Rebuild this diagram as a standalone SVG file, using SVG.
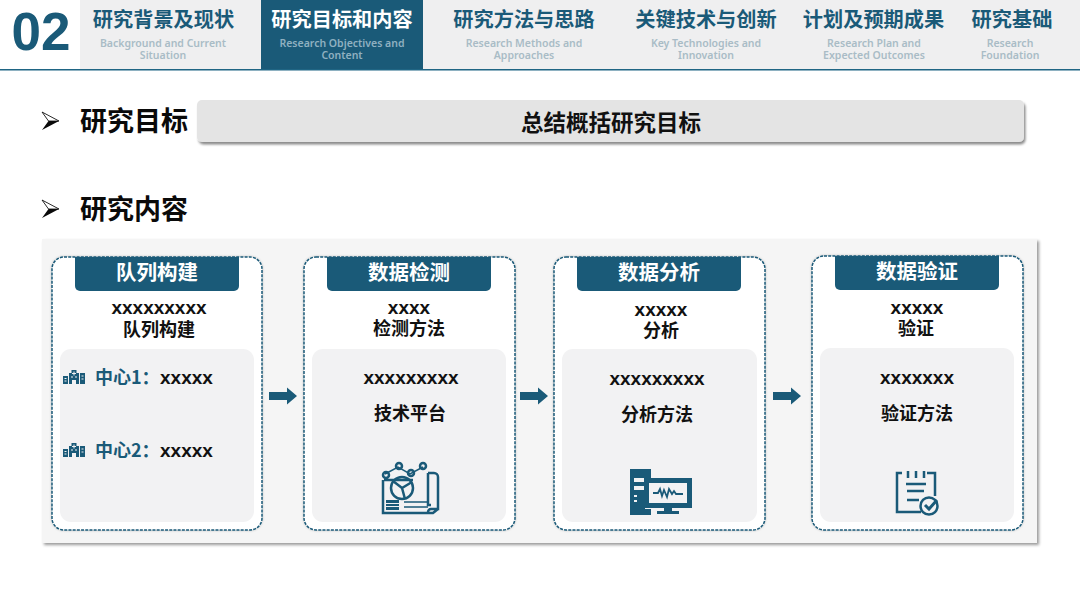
<svg xmlns="http://www.w3.org/2000/svg" width="1080" height="608" viewBox="0 0 1080 608">
<style>
text{font-family:"Noto Sans CJK SC","Noto Sans",sans-serif;text-anchor:middle;font-weight:700}
.tt{font-size:20.2px;fill:#1a5a78}
.ts{font-family:"Noto Sans","Open Sans",sans-serif;font-size:10.5px;font-weight:600;fill:#a9bcc6}
.h{font-size:27px;fill:#0a0a0a;text-anchor:start}
.cap{font-size:20.500px;fill:#fff}
.b{font-family:"Noto Sans CJK SC",sans-serif;font-size:18px;fill:#111}
.x{font-family:"Liberation Sans",sans-serif;font-size:19px;fill:#111}
.card{fill:#fff;stroke:#1a5a78;stroke-width:1.500;stroke-dasharray:3 1.200}
.in{fill:#f2f2f3}
.ic{fill:none;stroke:#1a5a78;stroke-width:2.500}
.f{fill:#1a5a78}
</style>
<defs>
<filter id="sd" x="-5%" y="-20%" width="110%" height="140%"><feDropShadow dx="1.5" dy="2.5" stdDeviation="1.2" flood-color="#000" flood-opacity=".45"/></filter>
<filter id="sd2" x="-5%" y="-5%" width="110%" height="110%"><feDropShadow dx="2" dy="2" stdDeviation="1.5" flood-color="#000" flood-opacity=".4"/></filter>
<filter id="sd3" x="-5%" y="-5%" width="110%" height="110%"><feDropShadow dx="0" dy="0" stdDeviation="1.2" flood-color="#000" flood-opacity=".25"/></filter>
<g id="hosp"><path class="f" d="M0 14V6h5V14zM6 14V3h2.500V0h5V3H16V14H13V10H9v4zM17 14V3h5V14z"/><path d="M11 1.500v4M9 3.500h4M1.500 8.500h2M1.500 11h2M18.500 6h2M18.500 9h2M8 7h2M12 7h2" stroke="#f2f2f3" stroke-width="1" fill="none"/></g>
<g id="bul"><path d="M0 0L17 9L0 18L6.500 9Z" fill="#0a0a0a"/><path d="M0 0L17 9L6.500 9Z" fill="#fff" stroke="#0a0a0a" stroke-width=".8"/></g>
<path id="arr" d="M0 -4H18V-8.500L28 0L18 8.500V4H0Z" fill="#1a5a78"/>
</defs>

<g id="header">
<rect x="80" y="0" width="1000" height="69" fill="#efeff0"/>
<rect x="261" y="0" width="162" height="69" fill="#1a5a78"/>
<rect x="0" y="69" width="1080" height="1.500" fill="#1f6584"/>
<text x="41" y="50" style="font-family:'Liberation Sans',sans-serif;font-size:53px;fill:#1a5a78">02</text>
</g>
<g id="tab1"><text class="tt" x="163.500" y="27">研究背景及现状</text><text class="ts" x="163" y="47">Background and Current</text><text class="ts" x="163" y="59">Situation</text></g>
<g id="tab2"><text class="tt" x="342" y="27" style="fill:#fff">研究目标和内容</text><text class="ts" x="342" y="47" style="fill:#8fb0c0">Research Objectives and</text><text class="ts" x="342" y="59" style="fill:#8fb0c0">Content</text></g>
<g id="tab3"><text class="tt" x="524" y="27">研究方法与思路</text><text class="ts" x="524" y="47">Research Methods and</text><text class="ts" x="524" y="59">Approaches</text></g>
<g id="tab4"><text class="tt" x="706" y="27">关键技术与创新</text><text class="ts" x="706" y="47">Key Technologies and</text><text class="ts" x="706" y="59">Innovation</text></g>
<g id="tab5"><text class="tt" x="873.500" y="27">计划及预期成果</text><text class="ts" x="874" y="47">Research Plan and</text><text class="ts" x="874" y="59">Expected Outcomes</text></g>
<g id="tab6"><text class="tt" x="1012" y="27">研究基础</text><text class="ts" x="1010" y="47">Research</text><text class="ts" x="1010" y="59">Foundation</text></g>

<g id="goal">
<use href="#bul" x="42" y="112"/>
<text class="h" x="80" y="131">研究目标</text>
<rect x="197" y="100" width="827" height="42" rx="5" fill="#e4e4e4" filter="url(#sd)"/>
<text x="611" y="131" style="font-size:22.500px;fill:#111">总结概括研究目标</text>
</g>
<g id="content-title">
<use href="#bul" x="42" y="200"/>
<text class="h" x="80" y="219">研究内容</text>
</g>
<rect id="panel" x="42" y="239" width="995" height="304" fill="#f5f5f5" filter="url(#sd2)"/>

<g id="node1">
<rect class="card" x="52" y="257" width="210" height="273" rx="12" filter="url(#sd3)"/>
<path class="f" d="M75 257H239V286a5 5 0 0 1-5 5H80a5 5 0 0 1-5-5Z"/>
<text class="cap" x="157" y="280">队列构建</text>
<text x="159" y="314"><tspan class="x">xxxxxxxxx</tspan><tspan class="b" x="159" dy="22">队列构建</tspan></text>
<rect class="in" x="60" y="349" width="194" height="173" rx="11"/>
<use href="#hosp" x="63" y="370"/>
<text x="95" y="384" style="font-size:18px;fill:#1a5a78;text-anchor:start">中心1：<tspan class="x" x="160">xxxxx</tspan></text>
<use href="#hosp" x="63" y="443"/>
<text x="95" y="457" style="font-size:18px;fill:#1a5a78;text-anchor:start">中心2：<tspan class="x" x="160">xxxxx</tspan></text>
</g>
<g id="node2">
<rect class="card" x="304" y="257" width="211" height="273" rx="12" filter="url(#sd3)"/>
<path class="f" d="M327 257H491V286a5 5 0 0 1-5 5H332a5 5 0 0 1-5-5Z"/>
<text class="cap" x="409" y="280">数据检测</text>
<text x="409" y="314"><tspan class="x">xxxx</tspan><tspan class="b" x="409" dy="21">检测方法</tspan></text>
<rect class="in" x="312" y="349" width="194" height="173" rx="11"/>
<text class="x" x="411" y="384">xxxxxxxxx</text>
<text class="b" x="410" y="420">技术平台</text>
<g class="ic">
<path d="M383 480V513H433L438 509M384 480H413M428 473H434a4 4 0 0 1 4 4V509H431a3 3 0 0 0-3 3M428 473V505H431"/>
<circle cx="402" cy="488" r="11"/>
<path d="M393 481L402 488L412 482M402 488L405 499"/>
<path d="M385 474L398 467L410 474L423 467" stroke-width="1.500"/>
<circle cx="386" cy="475" r="3"/><circle cx="399" cy="466" r="3"/><circle cx="411" cy="473" r="3"/><circle cx="423" cy="466" r="3"/>
<path d="M404 502H428M404 507H428" stroke-width="1.500"/>
</g>
<rect class="f" x="386" y="500" width="13" height="10"/>
<path d="M386 503.500H399M386 506.500H399" stroke="#f2f2f3"/>
</g>
<g id="node3">
<rect class="card" x="554" y="257" width="211" height="273" rx="12" filter="url(#sd3)"/>
<path class="f" d="M577 257H741V286a5 5 0 0 1-5 5H582a5 5 0 0 1-5-5Z"/>
<text class="cap" x="659" y="280">数据分析</text>
<text x="661" y="316"><tspan class="x">xxxxx</tspan><tspan class="b" x="661" dy="21">分析</tspan></text>
<rect class="in" x="562" y="349" width="195" height="173" rx="11"/>
<text class="x" x="657" y="385">xxxxxxxxx</text>
<text class="b" x="657" y="421">分析方法</text>
<path class="f" d="M630 469H651V478H645V509H651V515H630Z"/>
<path d="M634 478H644V482H634ZM634 486H644V490H634ZM634 495H637V497H634ZM634 500H637V502H634Z" fill="#f2f2f3"/>
<path class="f" d="M645 478H692V508H672V511H679V514H657V511H664V508H645ZM649 483V503H687V483Z"/>
<path d="M653 493H658L660 489L662 496L664 490L667 497L669 489L672 494L674 491L676 494H683" fill="none" stroke="#1a5a78" stroke-width="1.800"/>
</g>
<g id="node4">
<rect class="card" x="812" y="256" width="211" height="274" rx="12" filter="url(#sd3)"/>
<path class="f" d="M835 256H999V285a5 5 0 0 1-5 5H840a5 5 0 0 1-5-5Z"/>
<text class="cap" x="917" y="279">数据验证</text>
<text x="917" y="314"><tspan class="x">xxxxx</tspan><tspan class="b" x="916" dy="21">验证</tspan></text>
<rect class="in" x="820" y="348" width="194" height="174" rx="11"/>
<text class="x" x="917" y="384">xxxxxxx</text>
<text class="b" x="917" y="420">验证方法</text>
<path d="M902 473H897V512H921M927 473H935V496M908 471V478M916 471V478M924 471V478" fill="none" stroke="#1a5a78" stroke-width="2.500"/>
<path d="M906 484H926M907 491H924M907 500H919" fill="none" stroke="#1a5a78" stroke-width="2.500"/>
<circle cx="929" cy="506" r="8.500" fill="#f2f2f3" stroke="#1a5a78" stroke-width="2.500"/>
<path d="M925 505L929 509L937 500" fill="none" stroke="#1a5a78" stroke-width="3"/>
</g>
<g id="connectors">
<use href="#arr" x="269" y="396"/>
<use href="#arr" x="520" y="396"/>
<use href="#arr" x="773" y="396"/>
</g>
</svg>
